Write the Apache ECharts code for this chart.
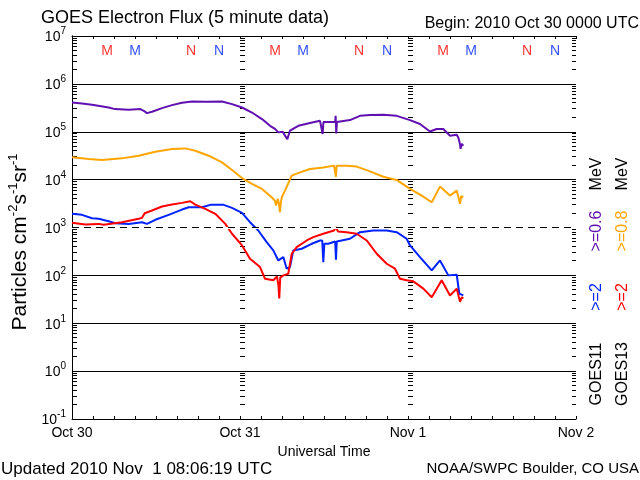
<!DOCTYPE html>
<html><head><meta charset="utf-8">
<script src="https://cdn.jsdelivr.net/npm/echarts@6/dist/echarts.min.js"></script>
<style>html,body{margin:0;padding:0;background:#fff}#c{width:640px;height:480px}</style>
</head><body><div id="c"></div>
<script>
// hours since 2010 Oct 30 00:00 UTC
const dayLabels = ['Oct 30', 'Oct 31', 'Nov 1', 'Nov 2'];
const yMin = 0.1, yMax = 1e7;

// GOES13 >=0.8 MeV (orange), GOES11 >=0.6 MeV (purple), GOES11 >=2 MeV (blue), GOES13 >=2 MeV (red)
const purple = [[0,4.07e5],[1.43,3.89e5],[2.86,3.66e5],[5.24,3.21e5],[6.14,2.97e5],[8.1,2.87e5],[9.76,2.97e5],[10.24,2.74e5],[10.71,2.45e5],[11.43,2.61e5],[12.86,3.12e5],[14.29,3.6e5],[15.71,4.02e5],[17.14,4.27e5],[19.04,4.22e5],[21.43,4.27e5],[22.86,3.78e5],[24.29,3.21e5],[25.71,2.52e5],[27.14,1.84e5],[28.29,1.33e5],[29.0,1.15e5],[29.47,9.7e4],[30.1,1.0e5],[30.5,8.0e4],[30.76,7.0e4],[31.14,1.05e5],[32.33,1.33e5],[34,1.52e5],[35.43,1.69e5],[35.7,1.65e5],[35.81,8.95e4],[35.92,1.6e5],[36.14,1.56e5],[37.6,1.62e5],[37.66,2.15e5],[37.75,9.2e4],[37.85,1.6e5],[38.29,1.64e5],[39.71,1.75e5],[41.14,2.15e5],[42.57,2.23e5],[44.47,2.26e5],[46.38,2.15e5],[48.29,1.75e5],[49.71,1.45e5],[51.14,1.01e5],[52.1,1.14e5],[53.04,1.14e5],[54,8.25e4],[54.96,8.66e4],[55.2,7.5e4],[55.43,5.5e4],[55.5,4.4e4],[55.7,5.6e4],[55.9,5.1e4]];
const orange = [[0,2.92e4],[2.39,2.7e4],[4.29,2.57e4],[7.14,2.78e4],[9.53,3.16e4],[11.9,3.83e4],[14.29,4.36e4],[16.19,4.49e4],[17.61,4.02e4],[19.53,3.16e4],[21.43,2.29e4],[22.86,1.59e4],[24.29,1.08e4],[25.71,8.13e3],[27.14,6.4e3],[28.53,4.28e3],[29.0,3.6e3],[29.14,2.87e3],[29.4,4.0e3],[29.6,2.9e3],[29.71,2.08e3],[29.85,3.5e3],[30,4.4e3],[30.43,5.9e3],[31.39,1.21e4],[32.57,1.42e4],[34,1.67e4],[35.9,1.8e4],[37.43,1.96e4],[37.62,1.96e4],[37.71,1.15e4],[37.8,1.96e4],[39.24,1.96e4],[40.67,1.87e4],[42.57,1.49e4],[44.47,1.15e4],[46.38,9.86e3],[48.29,6.4e3],[49.96,4.64e3],[51.39,3.37e3],[52.57,7.15e3],[54,4.64e3],[54.96,5.9e3],[55.2,5.9e3],[55.43,3.12e3],[55.6,4.5e3],[55.9,4.28e3]];
const blue = [[0,1.93e3],[1.43,1.84e3],[2.86,1.56e3],[3.81,1.52e3],[5.24,1.35e3],[6.19,1.23e3],[8.1,1.19e3],[10,1.29e3],[10.71,1.19e3],[11.9,1.45e3],[13.81,1.84e3],[15.71,2.37e3],[16.67,2.65e3],[18.57,2.65e3],[19.76,2.97e3],[21.67,2.97e3],[22.86,2.57e3],[24.29,2.02e3],[25.43,1.29e3],[26.61,866],[27.81,494],[28.76,332],[29.47,205],[30.19,241],[30.67,138],[31.14,149],[31.61,332],[32.81,360],[34.24,457],[35.43,536],[35.75,536],[35.9,189],[36.05,457],[36.61,457],[37.6,511],[37.71,212],[37.82,511],[38.04,511],[39.71,582],[41.14,798],[43.04,866],[44.96,866],[46.38,798],[47.81,582],[48.29,422],[49.71,241],[51.39,127],[52.57,205],[53.76,100],[54.96,103],[55.1,103],[55.33,41.6],[55.6,45],[55.9,38.3]];
const red = [[0,1.25e3],[1.9,1.15e3],[3.81,1.19e3],[4.53,1.14e3],[7.14,1.29e3],[9.53,1.52e3],[10,1.59e3],[10.39,1.99e3],[11.43,2.26e3],[12.86,2.74e3],[14.29,3.01e3],[15.71,3.27e3],[16.9,3.53e3],[17.61,3.01e3],[19.04,2.45e3],[20.47,1.93e3],[21.9,1.19e3],[22.86,740],[24.29,422],[25.43,223],[26.86,149],[27.57,85],[28.76,79],[29.29,95],[29.5,60],[29.61,33],[29.75,90],[30.19,100],[30.9,108],[31.39,283],[32.1,389],[33.53,536],[34.47,628],[35.9,740],[37.43,866],[37.71,1.01e3],[38,826],[39.24,798],[40.67,740],[42.1,536],[43.53,283],[44.96,175],[46.14,138],[46.86,85],[47.81,79],[48.76,75],[50.19,53],[51.39,35],[52.81,79],[54,38],[54.96,53],[55.2,50],[55.43,28],[55.7,35],[55.9,33]];

// local midnight (M) / noon (N) markers
const redMarkerHours = [5, 17, 29, 41, 53, 65];
const blueMarkerHours = [9, 21, 33, 45, 57, 69];
const markerLetters = ['M', 'N', 'M', 'N', 'M', 'N'];
const markerLevel = 4.9e6;

// minor tick columns (axis decoration)
const minorMultipliers = [2, 3, 4, 5, 6, 7, 8, 9];
const decadeExps = [-1, 0, 1, 2, 3, 4, 5, 6];
const tickColumns = [[0, 1, 5], [24, 1, 5], [48, 1, 5], [72, -1, 4]];

const tickData = [];
tickColumns.forEach(c => {
  decadeExps.forEach(e => {
    minorMultipliers.forEach(m => tickData.push([c[0], m * Math.pow(10, e), c[1], c[2]]));
  });
});

const FONT = 'Liberation Sans';
const chart = echarts.init(document.getElementById('c'), null, {renderer: 'canvas'});

function markerSeries(hours, color) {
  return {
    type: 'scatter', symbolSize: 1, symbol: 'rect', itemStyle: {color: 'rgba(0,0,0,0)'}, z: 5,
    data: hours.map((h, i) => ({value: [h, markerLevel], name: markerLetters[i]})),
    label: {show: true, position: 'inside', formatter: p => p.name, color: color, fontSize: 14, fontFamily: FONT},
    silent: true
  };
}

function vText(x, y, text, color) {
  return {type: 'text', x: x, y: y, rotation: Math.PI / 2,
    style: {text: text, fontSize: 16, fontFamily: FONT, fill: color, align: 'center', verticalAlign: 'middle'}};
}

const option = {
  animation: false,
  backgroundColor: '#fff',
  grid: {left: 72, top: 36, width: 504, height: 383, containLabel: false},
  xAxis: [
    {
      type: 'value', min: 0, max: 72, interval: 3, position: 'bottom',
      axisLine: {show: true, lineStyle: {color: '#000', width: 1}},
      axisTick: {show: true, inside: true, length: 3, lineStyle: {color: '#000'}},
      axisLabel: {show: true, margin: 7, color: '#000', fontSize: 14, fontFamily: FONT,
        formatter: v => (v % 24 === 0 ? dayLabels[v / 24] : '')},
      splitLine: {show: false},
      name: 'Universal Time', nameLocation: 'middle', nameGap: 22,
      nameTextStyle: {color: '#000', fontSize: 14, fontFamily: FONT}
    },
    {
      type: 'value', min: 0, max: 72, interval: 3, position: 'top',
      axisLine: {show: true, lineStyle: {color: '#000', width: 1}},
      axisTick: {show: true, inside: true, length: 3, lineStyle: {color: '#000'}},
      axisLabel: {show: false}, splitLine: {show: false}
    }
  ],
  yAxis: [
    {
      type: 'log', logBase: 10, min: yMin, max: yMax, splitNumber: 8, position: 'left',
      axisLine: {show: true, lineStyle: {color: '#000', width: 1}},
      axisTick: {show: false},
      splitLine: {show: true, lineStyle: {color: '#000', width: 1}},
      axisLabel: {
        show: true, margin: 6, color: '#000', fontFamily: FONT,
        formatter: v => '{b|10}{s|' + Math.round(Math.log10(v)) + '}',
        rich: {
          b: {fontSize: 14, fontFamily: FONT, color: '#000', padding: [3, 0, 0, 0]},
          s: {fontSize: 10, fontFamily: FONT, color: '#000', padding: [0, 0, 9, 0]}
        }
      }
    },
    {
      type: 'log', logBase: 10, min: yMin, max: yMax, splitNumber: 8, position: 'right',
      axisLine: {show: true, lineStyle: {color: '#000', width: 1}},
      axisTick: {show: false}, axisLabel: {show: false}, splitLine: {show: false}
    }
  ],
  series: [
    {
      type: 'line', data: [], z: 1, silent: true,
      markLine: {
        silent: true, symbol: 'none', label: {show: false}, animation: false,
        data: [
          {yAxis: 1e3, lineStyle: {color: '#fff', width: 2, type: 'solid'}},
          {yAxis: 1e3, lineStyle: {color: '#000', width: 1, type: [7, 5]}}
        ]
      }
    },
    {
      type: 'custom', z: 2, silent: true, data: tickData, encode: {x: 0, y: 1},
      renderItem: (params, api) => {
        const p = api.coord([api.value(0), api.value(1)]);
        const dir = api.value(2), len = api.value(3);
        const y = Math.round(p[1] - 0.5) + 0.5;
        return {type: 'line', shape: {x1: p[0], y1: y, x2: p[0] + dir * len, y2: y},
          style: {stroke: '#000', lineWidth: 1}};
      }
    },
    {type: 'line', data: purple, showSymbol: false, z: 3, lineStyle: {color: '#6010b0', width: 2}, itemStyle: {color: '#6010b0'}},
    {type: 'line', data: orange, showSymbol: false, z: 3, lineStyle: {color: '#ffa500', width: 2}, itemStyle: {color: '#ffa500'}},
    {type: 'line', data: blue, showSymbol: false, z: 3, lineStyle: {color: '#0022ff', width: 2}, itemStyle: {color: '#0022ff'}},
    {type: 'line', data: red, showSymbol: false, z: 3, lineStyle: {color: '#ff0000', width: 2}, itemStyle: {color: '#ff0000'}},
    markerSeries(redMarkerHours, '#ff0000'),
    markerSeries(blueMarkerHours, '#0022ff')
  ],
  graphic: [
    {type: 'text', x: 41, y: 18, style: {text: 'GOES Electron Flux (5 minute data)', fontSize: 18, fontFamily: FONT, fill: '#000', align: 'left', verticalAlign: 'middle'}},
    {type: 'text', x: 639, y: 24, style: {text: 'Begin: 2010 Oct 30 0000 UTC', fontSize: 16, fontFamily: FONT, fill: '#000', align: 'right', verticalAlign: 'middle'}},
    {type: 'text', x: 1, y: 469, style: {text: 'Updated 2010 Nov  1 08:06:19 UTC', fontSize: 17, fontFamily: FONT, fill: '#000', align: 'left', verticalAlign: 'middle'}},
    {type: 'text', x: 639, y: 469, style: {text: 'NOAA/SWPC Boulder, CO USA', fontSize: 15, fontFamily: FONT, fill: '#000', align: 'right', verticalAlign: 'middle'}},
    {type: 'text', x: 20, y: 242, rotation: Math.PI / 2, style: {
      text: 'Particles cm{s|-2}s{s|-1}sr{s|-1}', fontSize: 21, fontFamily: FONT, fill: '#000', align: 'center', verticalAlign: 'middle',
      rich: {s: {fontSize: 13, fontFamily: FONT, fill: '#000', padding: [0, 0, 13, 0]}}}},
    vText(597, 374, 'GOES11', '#000'),
    vText(597, 297, '>=2', '#0022ff'),
    vText(597, 231, '>=0.6', '#6010b0'),
    vText(597, 174, 'MeV', '#000'),
    vText(623, 374, 'GOES13', '#000'),
    vText(623, 297, '>=2', '#ff0000'),
    vText(623, 231, '>=0.8', '#ffa500'),
    vText(623, 174, 'MeV', '#000')
  ]
};
chart.setOption(option);
</script>
</body></html>
